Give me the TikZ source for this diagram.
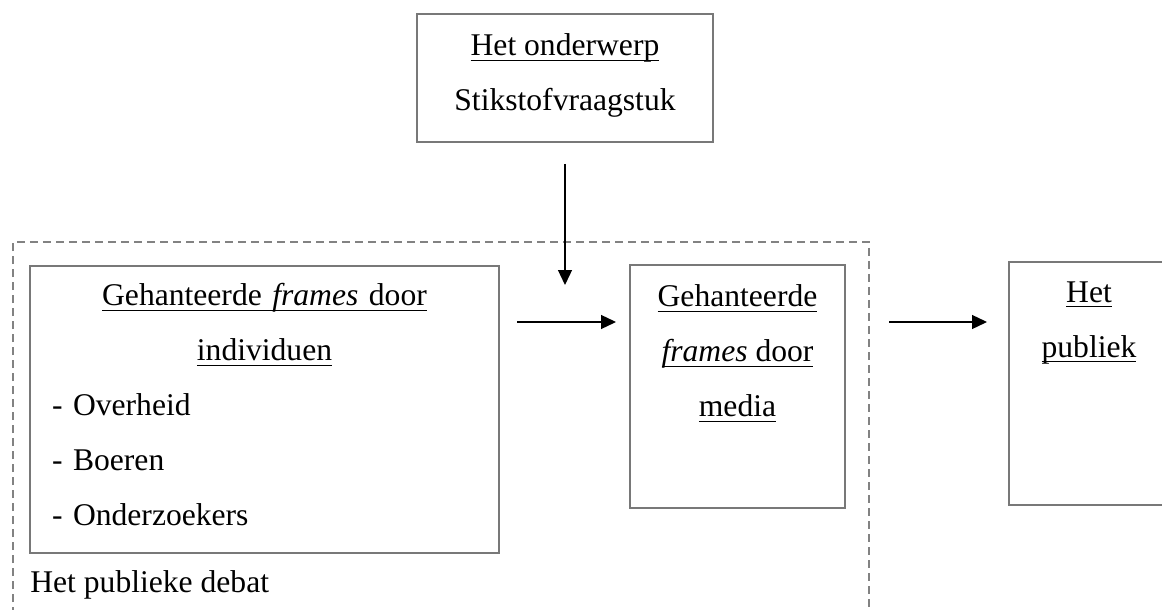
\documentclass[tikz,border=0pt]{standalone}
\usepackage{fontspec}
\setmainfont{Liberation Serif}
\usepackage{tikz}
\usetikzlibrary{arrows.meta}
\usetikzlibrary{positioning}

\definecolor{boxgray}{RGB}{120,120,120}
\definecolor{framegray}{RGB}{130,130,130}
\newsavebox{\undlbox}
\newcommand{\undl}[1]{\leavevmode\sbox{\undlbox}{#1}\rlap{\rule[-2.7pt]{\wd\undlbox}{0.5pt}}\usebox{\undlbox}}

\begin{document}
\begin{tikzpicture}[x=0.5pt, y=-0.5pt,
	box/.style = {draw=boxgray, line width=1pt, inner sep=0pt},
	txt/.style = {inner sep=0pt, font=\fontsize{15.8}{27.5}\selectfont, align=center},
	arrow/.style = {-{Triangle[length=7.5pt, width=7pt]}, line width=0.65pt}]
	\path[use as bounding box, fill=white] (0,0) rectangle (1162,610);
	% het publieke debat
	\draw[framegray, line width=1pt, dash pattern=on 4pt off 2.5pt] (13,615) -- (13,242) -- (869,242) -- (869,615);
	\node[txt, anchor=base west] (debat) at (30,592) {Het publieke debat};
	% boxes
	\node[box, minimum width=148pt, minimum height=64pt] (topic) at (565,78) {};
	\node[box, minimum width=234.5pt, minimum height=143.5pt] (indiv) at (264.5,409.5) {};
	\node[box, minimum width=107.5pt, minimum height=121.5pt] (media) at (737.5,386.5) {};
	\node[box, minimum width=80pt, minimum height=121.5pt] (publiek) at (1089,383.5) {};
	% texts
	\node[txt, below=10pt of topic.north] (topictxt) {\undl{Het onderwerp}\\ Stikstofvraagstuk};
	\node[txt, text width=212.5pt, align=left, below=9pt of indiv.north] (indivtxt) {{\centering \undl{Gehanteerde \textit{frames} door}\\ \undl{individuen}\par}
		- Overheid\\ - Boeren\\ - Onderzoekers};
	\node[txt, below=10pt of media.north] (mediatxt) {\undl{Gehanteerde}\\ \undl{\textit{frames} door}\\ \undl{media}};
	\node[txt, below=10pt of publiek.north] (publiektxt) {\undl{Het}\\ \undl{publiek}};
	% arrows
	\coordinate (drop) at (topic.south |- 0,285);
	\draw[arrow, shorten <=10.5pt] (topic.south) -- (drop);
	\draw[arrow, shorten <=8.5pt, shorten >=6.5pt] (indiv.east |- 0,322) -- (media.west |- 0,322);
	\draw[arrow, shorten <=21.5pt, shorten >=10.5pt] (media.east |- 0,322) -- (publiek.west |- 0,322);
\end{tikzpicture}
\end{document}
